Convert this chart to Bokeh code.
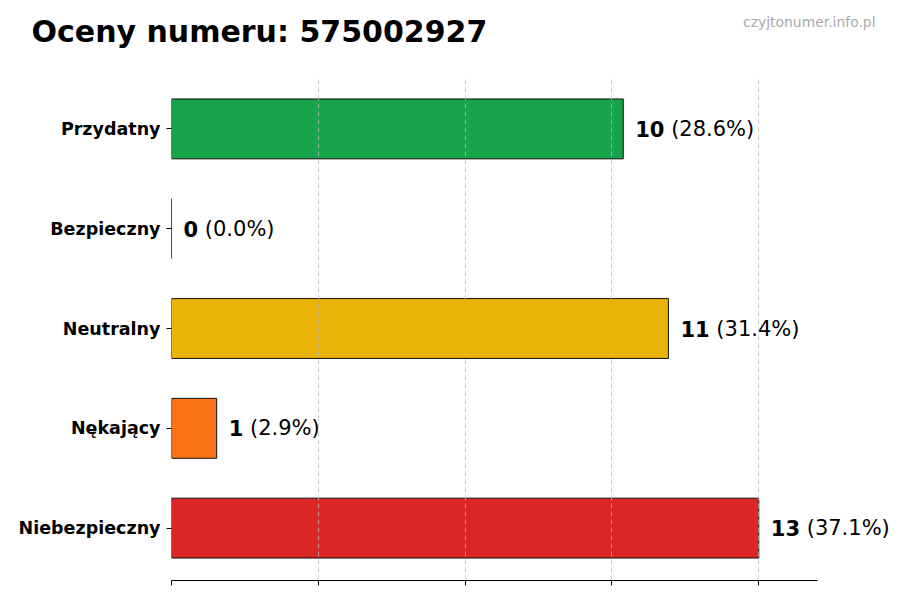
from bokeh.plotting import figure
from bokeh.models import ColumnDataSource, FactorRange, Range1d, FixedTicker, Title
from bokeh.core.properties import value
from bokeh.embed import file_html
from bokeh.resources import INLINE
import numpy as np

# ---- data ----
categories = ["Przydatny", "Bezpieczny", "Neutralny", "Nękający", "Niebezpieczny"]
counts = [10, 0, 11, 1, 13]
colors = ["#16a34a", "#3b82f6", "#eab308", "#f97316", "#dc2626"]
title_text = "Oceny numeru: 575002927"
watermark = "czyjtonumer.info.pl"

total = sum(counts)
pct_labels = ["(%.1f%%)" % (c * 100.0 / total) for c in counts]
num_labels = [str(c) for c in counts]

FONT = "DejaVu Sans"
LBL_FS = 21
digit_w = 0.696 * LBL_FS
space_w = 0.318 * LBL_FS
base_off = 12
pct_offsets = [base_off + len(s) * digit_w + space_w for s in num_labels]

src = ColumnDataSource(dict(cat=categories, val=counts, color=colors,
                            num=num_labels, pct=pct_labels, pct_off=pct_offsets))

x_max = max(counts) * 1.1
ticks = list(np.linspace(0, max(counts), 5))
# frame extends past the axis end so the value labels are not clipped
x_end = x_max * 719.0 / 646.0

p = figure(width=892, height=592, output_backend="svg", toolbar_location=None,
           y_range=FactorRange(factors=categories[::-1], range_padding=0.01),
           x_range=Range1d(0, x_end),
           min_border_left=171, min_border_right=2, min_border_top=76, min_border_bottom=12)
p.outline_line_color = None
p.title.text = ""

# header panels (the first one added sits nearest the frame):
# white spacer (nearest the frame), watermark, title (outermost)
p.add_layout(Title(text=".", align="right", text_font=FONT, text_font_size="10px",
                   text_color="white", standoff=46.15), "above")
p.add_layout(Title(text=watermark, align="right", offset=15, standoff=-18.7,
                   text_font=FONT, text_font_style="normal", text_font_size="13.9px",
                   text_color="#aaaaaa"), "above")
p.add_layout(Title(text=title_text, align="left", offset=-140, standoff=-56.9,
                   text_font=FONT, text_font_style="bold", text_font_size="30px",
                   text_color="black"), "above")

p.hbar(y="cat", left=0, right="val", height=0.6, fill_color="color",
       line_color="#111111", line_width=1, source=src)

p.text(x="val", y="cat", text="num", x_offset=base_off, text_align="left",
       text_baseline="middle", text_font=value(FONT), text_font_style="bold",
       text_font_size="%dpx" % LBL_FS, text_color="black", source=src)
p.text(x="val", y="cat", text="pct", x_offset="pct_off", text_align="left",
       text_baseline="middle", text_font=value(FONT),
       text_font_size="%dpx" % LBL_FS, text_color="black", source=src)

# x axis (no labels, ends at x_max)
p.xaxis.ticker = FixedTicker(ticks=ticks)
p.xaxis.bounds = (0, x_max)
p.xaxis.major_label_text_font_size = "0px"
p.xaxis.major_label_standoff = 0
p.xaxis.major_tick_out = 5
p.xaxis.major_tick_in = 0
p.xaxis.minor_tick_line_color = None
p.xaxis.axis_line_color = "black"
p.xaxis.major_tick_line_color = "black"

# y axis
p.yaxis.axis_line_color = None
p.yaxis.major_tick_out = 5
p.yaxis.major_tick_in = 0
p.yaxis.major_tick_line_color = "black"
p.yaxis.major_label_standoff = 6
p.yaxis.major_label_text_font = FONT
p.yaxis.major_label_text_font_style = "bold"
p.yaxis.major_label_text_font_size = "17.5px"
p.yaxis.major_label_text_color = "black"

# grid
p.ygrid.grid_line_color = None
p.xgrid.ticker = FixedTicker(ticks=ticks)
p.xgrid.grid_line_color = "#bbbbbb"
p.xgrid.grid_line_alpha = 0.7
p.xgrid.grid_line_dash = "5 3"
p.xgrid.grid_line_width = 1
p.xgrid.level = "overlay"

open("out.html", "w").write(file_html(p, INLINE))
